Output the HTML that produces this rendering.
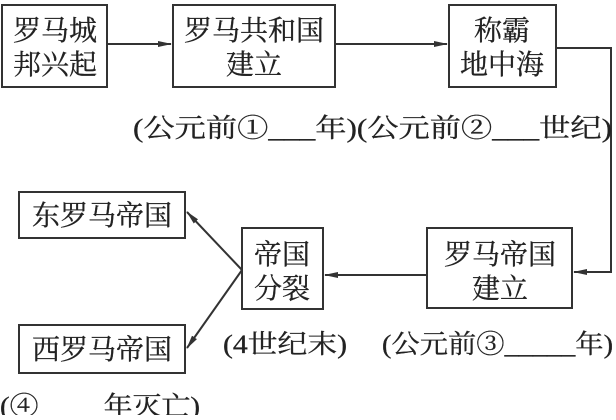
<!DOCTYPE html>
<html><head><meta charset="utf-8"><style>
body{margin:0;background:#fff;}
svg text{font-family:"Liberation Serif","Noto Serif CJK SC",serif;fill:#222;stroke:#222;stroke-width:0.3;}
</style></head><body>
<svg width="616" height="415" viewBox="0 0 616 415" xmlns="http://www.w3.org/2000/svg">
<defs><marker id="a" markerWidth="14" markerHeight="8" refX="13" refY="4" orient="auto" markerUnits="userSpaceOnUse"><path d="M0,1 L14,4 L0,7 Z" fill="#333"/></marker></defs>
<g fill="none" stroke="#333" stroke-width="2">
<rect x="2" y="5" width="105" height="82"/>
<rect x="173" y="5" width="162" height="82"/>
<rect x="449" y="5" width="107" height="82"/>
<rect x="427" y="228" width="145" height="80"/>
<rect x="242" y="228" width="81" height="81"/>
<rect x="19" y="192" width="166" height="46"/>
<rect x="19" y="325" width="166" height="48"/>
<line x1="107" y1="44" x2="171" y2="44" marker-end="url(#a)"/>
<line x1="335" y1="44" x2="447" y2="44" marker-end="url(#a)"/>
<polyline points="556,48 611,48 611,272 574,272" marker-end="url(#a)"/>
<line x1="427" y1="275" x2="325" y2="275" marker-end="url(#a)"/>
<line x1="242" y1="270" x2="187" y2="212" marker-end="url(#a)"/>
<line x1="242" y1="270" x2="187" y2="348" marker-end="url(#a)"/>
</g>
<g font-size="28" text-anchor="middle">
<text x="55" y="40">罗马城</text><text x="55" y="74">邦兴起</text>
<text x="254" y="40">罗马共和国</text><text x="254" y="74">建立</text>
<text x="502" y="40">称霸</text><text x="502" y="74">地中海</text>
<text x="500" y="264">罗马帝国</text><text x="500" y="298">建立</text>
<text x="282" y="264">帝国</text><text x="282" y="298">分裂</text>
<text x="102" y="225">东罗马帝国</text>
<text x="102" y="359">西罗马帝国</text>
</g>
<g font-size="26">
<text x="133" y="137" textLength="479" lengthAdjust="spacingAndGlyphs">(公元前①___年)(公元前②___世纪)</text>
<text x="223" y="353" textLength="124" lengthAdjust="spacingAndGlyphs">(4世纪末)</text>
<text x="382" y="353" textLength="231" lengthAdjust="spacingAndGlyphs">(公元前③_____年)</text>
<text x="0" y="415" textLength="200" lengthAdjust="spacingAndGlyphs">(④　　 年灭亡)</text>
</g>
</svg>
</body></html>
